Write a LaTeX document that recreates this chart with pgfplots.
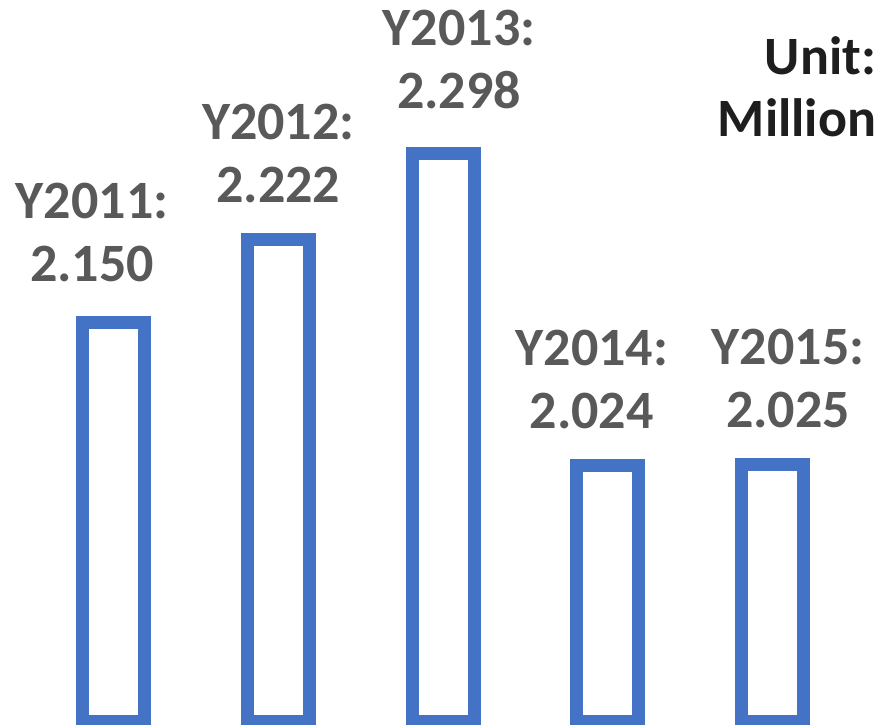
\documentclass[border=0pt]{standalone}
\usepackage{pgfplots}
\usepackage{pgfplotstable}
\pgfplotsset{compat=1.18}
\usepackage{fontspec}
\setmainfont{Carlito}
\definecolor{barblue}{RGB}{68,114,196}
\definecolor{labgray}{RGB}{89,89,89}
\definecolor{unitblack}{RGB}{30,30,30}
\pgfplotstableread{
x v yr dx dy
0 2.150 2011 -10.75 16.75
1 2.222 2012 0 15.25
2 2.298 2013 8 18.75
3 2.024 2014 -8 15.25
4 2.025 2015 7.75 15.25
}\datatable
\begin{document}
\begin{tikzpicture}
\begin{axis}[
  scale only axis,
  width=440pt, height=362pt,
  xmin=-0.689, xmax=4.6525,
  ymin=-0.002, ymax=0.632,
  hide axis,
  clip=true,
  ybar, bar width=31pt,
]
\coordinate (sw) at (rel axis cs:0,0);
\coordinate (ne) at (rel axis cs:1,1);
\addplot[draw=barblue, fill=none, line width=6.5pt, bar shift=0pt,
  point meta=explicit symbolic,
  visualization depends on={\thisrow{yr} \as \yr},
  visualization depends on={\thisrow{dx} \as \dx},
  visualization depends on={\thisrow{dy} \as \dy},
  nodes near coords={Y\pgfmathprintnumber[fixed,precision=0,1000 sep={},assume math mode=true]{\yr}:\\\pgfplotspointmeta},
  every node near coord/.style={anchor=south, inner sep=0pt, align=center,
    text=labgray, font=\bfseries\fontsize{27}{31.5}\selectfont,
    xshift=\dx, yshift=\dy},
] table[x=x, y expr=\thisrow{v}-1.8, meta=v] {\datatable};
\node[anchor=north east, align=right, inner sep=0pt, text=unitblack,
  font=\bfseries\fontsize{27}{31}\selectfont]
  at (rel axis cs:0.996,0.950) {Unit:\\Million};
\end{axis}
\pgfresetboundingbox
\path[use as bounding box] (sw) rectangle (ne);
\end{tikzpicture}
\end{document}
